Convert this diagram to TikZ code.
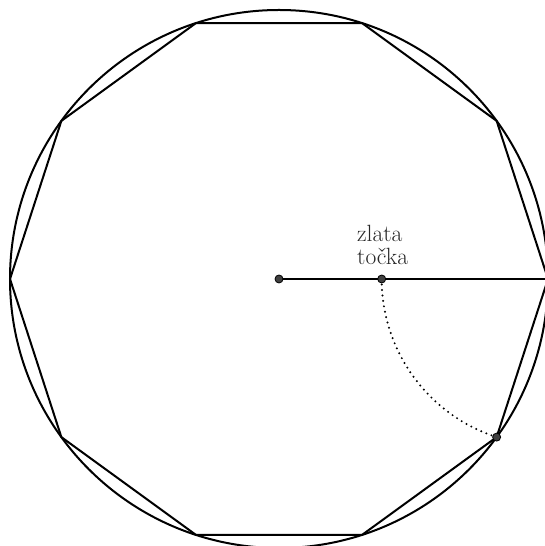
\documentclass[tikz,border=0pt]{standalone}
\usetikzlibrary{calc}
\begin{document}
\begin{tikzpicture}[x=1pt,y=1pt,
  figline/.style={line width=2pt, black},
  dotline/.style={line width=2.2pt, dash pattern=on 0pt off 5.5pt, line cap=round},
  pt/.style={circle, fill=black!75, draw=black, line width=0.8pt, inner sep=0pt, minimum size=8pt},
  lbl/.style={font=\fontsize{23.5}{23.5}\selectfont, text=black!85, align=left, inner sep=0pt}]
\useasboundingbox (0,0) rectangle (545,546);
\def\R{269}
\coordinate (C) at (279,267);
\foreach \k in {0,...,9} {\coordinate (v\k) at ($(C)+(\k*36:\R)$);}
\draw[figline] (C) circle (\R);
\draw[figline, line join=miter] (v0) -- (v1) -- (v2) -- (v3) -- (v4) -- (v5) -- (v6) -- (v7) -- (v8) -- (v9) -- cycle;
\draw[figline] (C) -- (v0);
\coordinate (Gc) at ($(C)+(102.7,0)$);
\draw[dotline] (Gc) arc[start angle=180, end angle=252, radius=166.25];
\node[pt] (O) at (C) {};
\node[pt] (G) at (Gc) {};
\node[pt] (P) at (v9) {};
\node[lbl, anchor=base west] (T) at (357,281) {zlata\\točka};
\end{tikzpicture}
\end{document}
